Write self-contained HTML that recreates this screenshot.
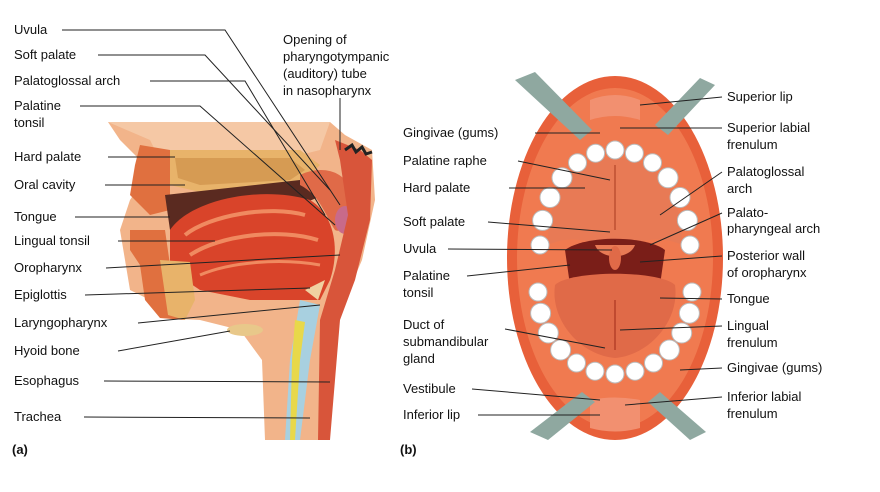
<!DOCTYPE html>
<html><head><meta charset="utf-8"><style>
html,body{margin:0;padding:0;background:#fff;}
svg{display:block;}
text{font-family:"Liberation Sans",Arial,sans-serif;font-size:13px;fill:#111;}
.b{font-weight:bold;}
</style></head><body>
<svg width="880" height="492" viewBox="0 0 880 492" xmlns="http://www.w3.org/2000/svg">
<rect width="880" height="492" fill="#fff"/>
<!-- LEFT PANEL -->
<g>
 <path d="M108 122 L330 122 L345 135 L372 150 L375 200 L362 260 L345 300 L330 330 L330 440 L265 440 L262 360 L240 330 L200 320 L160 318 L150 300 L130 290 L120 230 L130 200 L150 170 L120 140 Z" fill="#f2b48a"/>
 <path d="M108 122 L330 122 L320 150 L280 160 L200 162 L160 160 L150 140 Z" fill="#f5c8a5"/>
 <path d="M165 150 L300 150 L320 165 L300 185 L200 192 L170 185 Z" fill="#e8b36a"/>
 <path d="M175 158 L290 158 L305 170 L290 180 L200 185 L178 178 Z" fill="#c98a45" opacity="0.6"/>
 <path d="M140 145 L170 150 L170 210 L150 215 L130 195 L135 165 Z" fill="#e0703f"/>
 <path d="M165 195 L300 180 L330 175 L335 190 L300 205 L200 215 L170 230 Z" fill="#5a2a20"/>
 <path d="M170 230 C190 200 260 185 310 200 C335 215 340 250 330 280 L320 300 L250 300 L200 290 L170 270 Z" fill="#d9442a"/>
 <path d="M185 235 C210 215 270 205 305 215" stroke="#f08a60" stroke-width="4" fill="none"/>
 <path d="M190 255 C220 235 280 228 318 240" stroke="#f08a60" stroke-width="4" fill="none"/>
 <path d="M200 275 C230 262 280 258 320 265" stroke="#f08a60" stroke-width="3" fill="none"/>
 <path d="M130 230 L165 230 L170 265 L175 300 L185 320 L160 318 L145 300 L140 265 L130 250 Z" fill="#e0703f"/>
 <path d="M160 260 L190 262 L195 300 L185 320 L168 315 Z" fill="#e8b36a"/>
 <path d="M300 175 C320 165 345 170 350 190 C355 215 345 235 335 230 C325 215 320 195 300 185 Z" fill="#e06a48"/>
 <ellipse cx="345" cy="220" rx="10" ry="14" fill="#c86a8a"/>
 <path d="M335 140 L360 150 L372 160 L370 220 L355 280 L340 320 L330 440 L318 440 L320 320 L335 270 L348 215 L340 160 Z" fill="#d8553a"/>
 <path d="M345 150 L352 145 L356 152 L362 147 L366 154 L372 152" stroke="#222" stroke-width="3" fill="none"/>
 <path d="M300 300 L320 305 L310 360 L300 440 L285 440 L290 360 Z" fill="#a8d0e0"/>
 <path d="M295 320 L305 322 L300 360 L295 440 L290 440 L292 360 Z" fill="#e8d84a"/>
 <path d="M305 290 L325 280 L318 300 Z" fill="#f0d0a0"/>
 <ellipse cx="245" cy="330" rx="18" ry="6" fill="#e8c88a"/>
</g>
<g stroke="#222" stroke-width="1" fill="none">
 <path d="M62 30 L225 30 L340 205"/>
 <path d="M98 55 L205 55 L330 190"/>
 <path d="M150 81 L245 81 L325 215"/>
 <path d="M80 106 L200 106 L335 225"/>
 <path d="M108 157 L175 157"/>
 <path d="M105 185 L185 185"/>
 <path d="M75 217 L170 217"/>
 <path d="M118 241 L215 241"/>
 <path d="M106 268 L340 255"/>
 <path d="M85 295 L310 288"/>
 <path d="M138 323 L320 305"/>
 <path d="M118 351 L230 331"/>
 <path d="M104 381 L330 382"/>
 <path d="M84 417 L310 418"/>
 <path d="M340 98 L340 150"/>
</g>
<g>
 <text x="14" y="34">Uvula</text>
 <text x="14" y="59">Soft palate</text>
 <text x="14" y="85">Palatoglossal arch</text>
 <text x="14" y="110">Palatine</text>
 <text x="14" y="127">tonsil</text>
 <text x="14" y="161">Hard palate</text>
 <text x="14" y="189">Oral cavity</text>
 <text x="14" y="221">Tongue</text>
 <text x="14" y="245">Lingual tonsil</text>
 <text x="14" y="272">Oropharynx</text>
 <text x="14" y="299">Epiglottis</text>
 <text x="14" y="327">Laryngopharynx</text>
 <text x="14" y="355">Hyoid bone</text>
 <text x="14" y="385">Esophagus</text>
 <text x="14" y="421">Trachea</text>
 <text x="12" y="454" class="b">(a)</text>
 <text x="283" y="44">Opening of</text>
 <text x="283" y="61">pharyngotympanic</text>
 <text x="283" y="78">(auditory) tube</text>
 <text x="283" y="95">in nasopharynx</text>
</g>
<!-- RIGHT PANEL -->
<g>
 <ellipse cx="615" cy="258" rx="108" ry="182" fill="#e8603a"/>
 <ellipse cx="615" cy="258" rx="98" ry="170" fill="#f07a50"/>
 <!-- palate -->
 <path d="M548 245 C548 180 580 158 615 158 C650 158 682 180 682 245 C660 235 640 240 615 250 C590 240 570 235 548 245 Z" fill="#e87a55"/>
 <line x1="615" y1="165" x2="615" y2="230" stroke="#c85a3a" stroke-width="2"/>
 <path d="M565 250 C585 235 645 235 665 250 L660 285 L570 285 Z" fill="#7a1e18"/>
 <path d="M595 245 C600 260 630 260 635 245" fill="#e87a55"/>
 <ellipse cx="615" cy="258" rx="6" ry="12" fill="#e06a48"/>
 <path d="M555 285 C570 270 660 270 675 285 C680 320 650 355 615 358 C580 355 550 320 555 285 Z" fill="#e06a48"/>
 <line x1="615" y1="300" x2="615" y2="350" stroke="#c04a30" stroke-width="2"/>
 <!-- teeth -->
 <g fill="#fff" stroke="#bbb" stroke-width="1">
  <circle cx="540" cy="245" r="9"/><circle cx="542.6" cy="220.4" r="10"/><circle cx="550" cy="197.5" r="10"/>
  <circle cx="562" cy="177.8" r="10"/><circle cx="577.5" cy="162.7" r="9"/><circle cx="595.6" cy="153.2" r="9"/>
  <circle cx="615" cy="150" r="9"/><circle cx="634.4" cy="153.2" r="9"/><circle cx="652.5" cy="162.7" r="9"/>
  <circle cx="668" cy="177.8" r="10"/><circle cx="680" cy="197.5" r="10"/><circle cx="687.4" cy="220.4" r="10"/>
  <circle cx="690" cy="245" r="9"/>
  <circle cx="692" cy="292" r="9"/><circle cx="689.4" cy="313.2" r="10"/><circle cx="681.7" cy="333" r="10"/>
  <circle cx="669.4" cy="350" r="10"/><circle cx="653.5" cy="363" r="9"/><circle cx="635" cy="371.2" r="9"/>
  <circle cx="615" cy="374" r="9"/><circle cx="595" cy="371.2" r="9"/><circle cx="576.5" cy="363" r="9"/>
  <circle cx="560.6" cy="350" r="10"/><circle cx="548.3" cy="333" r="10"/><circle cx="540.6" cy="313.2" r="10"/>
  <circle cx="538" cy="292" r="9"/>
 </g>
 <path d="M590 100 Q615 90 640 100 L640 120 Q615 112 590 120 Z" fill="#f29070"/>
 <path d="M590 400 Q615 395 640 400 L640 428 Q615 435 590 428 Z" fill="#f29070"/>
 <path d="M515 80 L535 72 L592 130 L580 140 Z" fill="#8fa8a0"/>
 <path d="M715 85 L700 78 L655 125 L668 135 Z" fill="#8fa8a0"/>
 <path d="M548 440 L530 432 L582 392 L595 402 Z" fill="#8fa8a0"/>
 <path d="M690 440 L706 432 L660 392 L648 402 Z" fill="#8fa8a0"/>
</g>
<g stroke="#222" stroke-width="1" fill="none">
 <path d="M535 133 L600 133"/>
 <path d="M518 161 L610 180"/>
 <path d="M509 188 L585 188"/>
 <path d="M488 222 L610 232"/>
 <path d="M448 249 L612 250"/>
 <path d="M467 276 L570 265"/>
 <path d="M505 329 L605 348"/>
 <path d="M472 389 L600 400"/>
 <path d="M478 415 L600 415"/>
 <path d="M722 97 L640 105"/>
 <path d="M722 128 L620 128"/>
 <path d="M722 172 L660 215"/>
 <path d="M722 213 L650 245"/>
 <path d="M722 256 L640 262"/>
 <path d="M722 299 L660 298"/>
 <path d="M722 326 L620 330"/>
 <path d="M722 368 L680 370"/>
 <path d="M722 397 L625 405"/>
</g>
<g>
 <text x="403" y="137">Gingivae (gums)</text>
 <text x="403" y="165">Palatine raphe</text>
 <text x="403" y="192">Hard palate</text>
 <text x="403" y="226">Soft palate</text>
 <text x="403" y="253">Uvula</text>
 <text x="403" y="280">Palatine</text>
 <text x="403" y="297">tonsil</text>
 <text x="403" y="329">Duct of</text>
 <text x="403" y="346">submandibular</text>
 <text x="403" y="363">gland</text>
 <text x="403" y="393">Vestibule</text>
 <text x="403" y="419">Inferior lip</text>
 <text x="400" y="454" class="b">(b)</text>
 <text x="727" y="101">Superior lip</text>
 <text x="727" y="132">Superior labial</text>
 <text x="727" y="149">frenulum</text>
 <text x="727" y="176">Palatoglossal</text>
 <text x="727" y="193">arch</text>
 <text x="727" y="217">Palato-</text>
 <text x="727" y="233">pharyngeal arch</text>
 <text x="727" y="260">Posterior wall</text>
 <text x="727" y="277">of oropharynx</text>
 <text x="727" y="303">Tongue</text>
 <text x="727" y="330">Lingual</text>
 <text x="727" y="347">frenulum</text>
 <text x="727" y="372">Gingivae (gums)</text>
 <text x="727" y="401">Inferior labial</text>
 <text x="727" y="418">frenulum</text>
</g>
</svg>
</body></html>
